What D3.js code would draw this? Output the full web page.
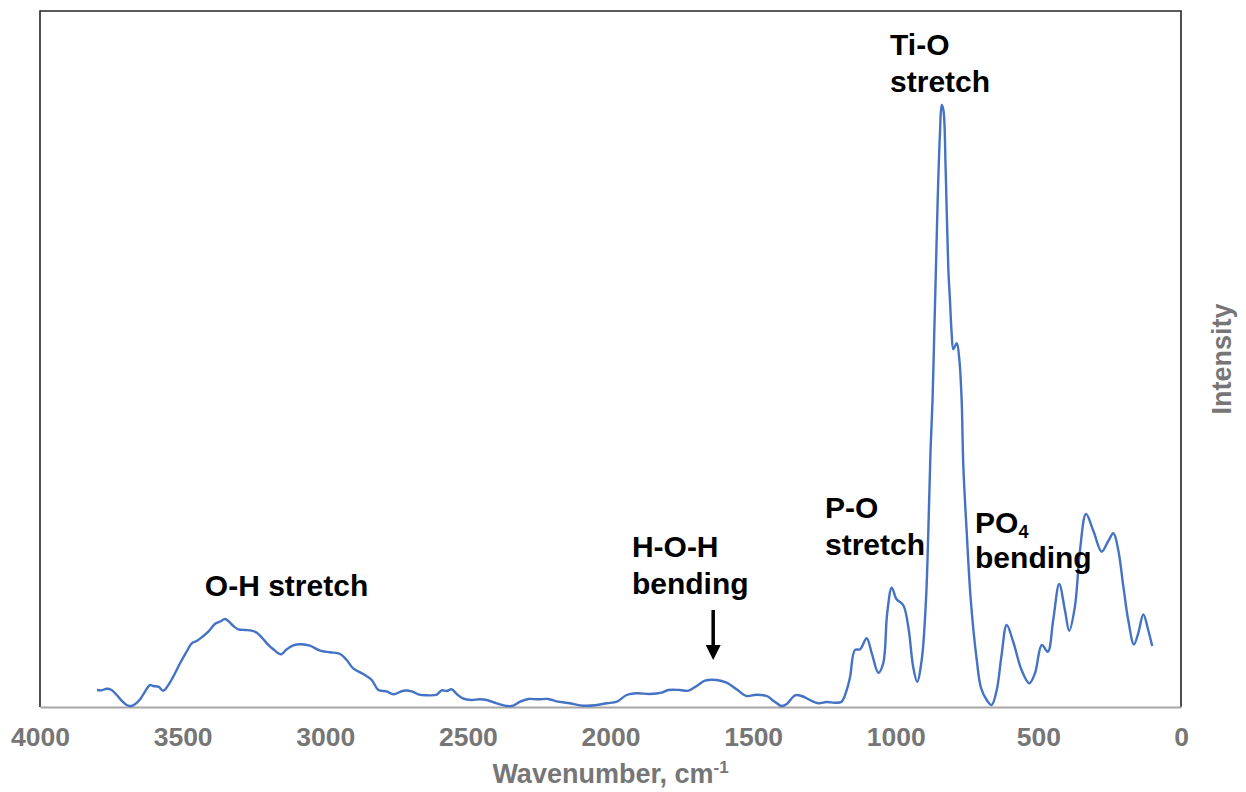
<!DOCTYPE html>
<html>
<head>
<meta charset="utf-8">
<script src="https://cdn.jsdelivr.net/npm/d3@7"></script>
<style>
    body { margin: 0; background: #ffffff; }
    text { font-family: "Liberation Sans", Arial, sans-serif; font-weight: bold; }
</style>
</head>
<body>
<svg id="chart" width="1246" height="792"></svg>
<script>
// wavenumber (cm-1) from left to right
const wavenumbers = [
    3800, 3784, 3766, 3749, 3731, 3714, 3696, 3679, 3667, 3649,
    3632, 3614, 3603, 3585, 3568, 3550, 3533, 3509, 3486, 3468,
    3451, 3433, 3410, 3387, 3369, 3351, 3340, 3322, 3305, 3281,
    3258, 3240, 3223, 3205, 3182, 3155, 3135, 3112, 3083, 3054,
    3018, 2983, 2948, 2925, 2902, 2867, 2837, 2814, 2785, 2761,
    2726, 2697, 2674, 2644, 2609, 2592, 2574, 2557, 2539, 2516,
    2487, 2458, 2434, 2399, 2364, 2341, 2317, 2288, 2253, 2218,
    2189, 2142, 2095, 2054, 2013, 1978, 1943, 1908, 1862, 1821,
    1797, 1756, 1727, 1698, 1669, 1628, 1593, 1558, 1523, 1488,
    1452, 1429, 1400, 1382, 1353, 1330, 1301, 1272, 1242, 1213,
    1190, 1172, 1160, 1143, 1125, 1102, 1084, 1061, 1044, 1030,
    1014, 997, 974, 956, 939, 925, 909, 894, 886, 878,
    871, 865, 859, 853, 845, 839, 833, 825, 816, 810,
    804, 798, 786, 777, 769, 763, 751, 737, 716, 701,
    681, 664, 646, 629, 611, 588, 559, 532, 512, 488,
    467, 448, 427, 407, 392, 372, 354, 333, 307, 278,
    255, 237, 220, 202, 185, 165, 150, 132, 115, 101
];

// intensity (arbitrary units)
const intensities = [
    17, 16.7, 18.3, 17, 12, 6.3, 2, 1, 2.7, 7.7,
    15.3, 22, 21, 20.3, 16.3, 22, 30.3, 43.7, 55.3, 63.7,
    66, 69.7, 75.3, 83, 85.3, 88, 86, 81, 77.7, 77,
    76.3, 74.3, 69.7, 63.7, 57.7, 52.7, 57.7, 61.7, 62.7, 61.3,
    56.3, 54.7, 53, 47, 38.7, 33, 27, 17, 15.7, 12.7,
    16.3, 15.7, 12.7, 11.7, 12.3, 16.7, 16, 17.7, 13, 8.3,
    7, 7.7, 7, 3.7, 1, 1.3, 5.3, 8, 7.7, 8,
    5.7, 3.7, 1.3, 1.7, 3.7, 5.3, 12, 13.7, 13, 14.3,
    17, 17, 16.3, 21, 26.3, 27, 24.3, 17.7, 11, 12.3,
    11, 6.3, 1, 3, 11.7, 11, 7, 3.7, 5, 4.3,
    5.3, 17, 30.3, 57, 57.7, 68.7, 53.7, 34.3, 43.7, 93.7,
    119.3, 107.7, 102, 80.3, 40.3, 25.3, 47, 107, 173.7, 257,
    307, 373.7, 440.3, 507, 574, 602, 597, 537, 440.3, 407,
    374, 357.7, 363.7, 347, 307, 240.3, 173.7, 107, 47, 19,
    7, 2, 17, 52, 82, 65, 37, 23.7, 33.7, 62,
    55.3, 87, 123, 97, 76.3, 100.3, 157, 193, 176, 155.3,
    166, 173.7, 157, 120.3, 87, 62.5, 73.7, 92.5, 77, 61
];

const xTickValues = [4000, 3500, 3000, 2500, 2000, 1500, 1000, 500, 0];

// band labels: text lines, left edge (cm-1) and baseline of each line (intensity)
const bandLabels = [
    { lines: ["O-H stretch"], wavenumber: 3422, baselines: [111] },
    { lines: ["H-O-H", "bending"], wavenumber: 1925, baselines: [150, 113] },
    { lines: ["Ti-O", "stretch"], wavenumber: 1020, baselines: [652, 615] },
    { lines: ["P-O", "stretch"], wavenumber: 1248, baselines: [189, 152] },
    { lines: ["PO|4", "bending"], wavenumber: 722, baselines: [174, 139] }
];

// arrow pointing at the H-O-H band: wavenumber, start and end intensity
const arrowWavenumber = 1640;
const arrowFrom = 97;
const arrowTo = 47;

const svg = d3.select("#chart");

const plot = { left: 40, right: 1181, top: 11, bottom: 707 };

const x = d3.scaleLinear()
    .domain([4000, 0])
    .range([plot.left, plot.right]);

const y = d3.scaleLinear()
    .domain([0, 696])
    .range([plot.bottom, plot.top]);

const spectrum = wavenumbers.map(function(w, i) {
    return { w: w, i: intensities[i] };
});

// frame: dark left, top and right sides, grey axis line at the bottom
svg.append("path")
    .attr("d", "M" + plot.left + "," + plot.bottom +
        "V" + plot.top + "H" + plot.right + "V" + plot.bottom)
    .attr("fill", "none")
    .attr("stroke", "#262626")
    .attr("stroke-width", 1.6);

const xAxis = svg.append("g")
    .attr("transform", "translate(0," + plot.bottom + ")")
    .call(
        d3.axisBottom(x)
            .tickValues(xTickValues)
            .tickSize(0)
            .tickPadding(20)
            .tickFormat(d3.format("d"))
    );

xAxis.select(".domain")
    .attr("stroke", "#a6a6a6")
    .attr("stroke-width", 2.2);

xAxis.selectAll(".tick text")
    .attr("fill", "#767676")
    .attr("font-size", 26.5)
    .attr("font-family", "Liberation Sans, Arial, sans-serif")
    .attr("font-weight", "bold");

// axis titles
const xTitle = svg.append("text")
    .attr("x", (plot.left + plot.right) / 2)
    .attr("y", 783)
    .attr("text-anchor", "middle")
    .attr("fill", "#767676")
    .attr("font-size", 27);

xTitle.append("tspan").text("Wavenumber, cm");
xTitle.append("tspan")
    .attr("dy", -10)
    .attr("font-size", 17)
    .text("-1");

svg.append("text")
    .attr("transform", "translate(1231," + ((plot.top + plot.bottom) / 2) + ") rotate(-90)")
    .attr("text-anchor", "middle")
    .attr("fill", "#767676")
    .attr("font-size", 27)
    .text("Intensity");

// spectrum
const line = d3.line()
    .x(function(d) { return x(d.w); })
    .y(function(d) { return y(d.i); })
    .curve(d3.curveCatmullRom.alpha(0.5));

svg.append("path")
    .datum(spectrum)
    .attr("d", line)
    .attr("fill", "none")
    .attr("stroke", "#4472c4")
    .attr("stroke-width", 2.4)
    .attr("stroke-linejoin", "round");

// band labels
bandLabels.forEach(function(label) {
    label.lines.forEach(function(lineText, k) {
        const t = svg.append("text")
            .attr("x", x(label.wavenumber))
            .attr("y", y(label.baselines[k]))
            .attr("fill", "#000000")
            .attr("font-size", 30);

        const parts = lineText.split("|");
        t.append("tspan").text(parts[0]);

        if (parts.length > 1) {
            t.append("tspan")
                .attr("dy", 5)
                .attr("font-size", 18)
                .text(parts[1]);
        }
    });
});

// arrow
const ax = x(arrowWavenumber);
const headSize = 15;

svg.append("line")
    .attr("x1", ax)
    .attr("x2", ax)
    .attr("y1", y(arrowFrom))
    .attr("y2", y(arrowTo) - headSize + 2)
    .attr("stroke", "#000000")
    .attr("stroke-width", 3.5);

svg.append("path")
    .attr("d", "M" + (ax - 7.5) + "," + (y(arrowTo) - headSize) +
        "L" + (ax + 7.5) + "," + (y(arrowTo) - headSize) +
        "L" + ax + "," + y(arrowTo) + "Z")
    .attr("fill", "#000000");
</script>
</body>
</html>
